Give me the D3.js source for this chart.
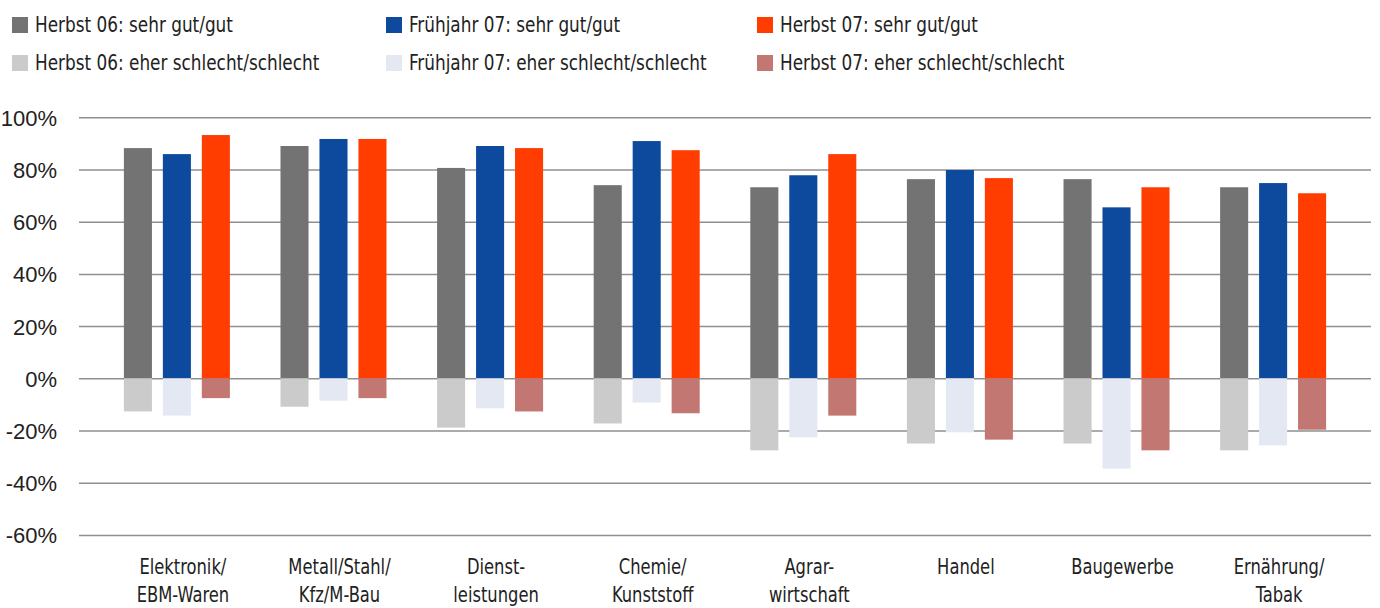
<!DOCTYPE html>
<html>
<head>
<meta charset="utf-8">
<script src="https://cdn.jsdelivr.net/npm/d3@7"></script>
<style>
  body { margin: 0; background: #fff; }
  svg { display: block; font-family: "Liberation Sans Narrow", "DejaVu Sans Condensed", "Open Sans", sans-serif; }
</style>
</head>
<body>
<svg id="chart"></svg>
<script>
const categories = [
  ['Elektronik/', 'EBM-Waren'],
  ['Metall/Stahl/', 'Kfz/M-Bau'],
  ['Dienst-', 'leistungen'],
  ['Chemie/', 'Kunststoff'],
  ['Agrar-', 'wirtschaft'],
  ['Handel'],
  ['Baugewerbe'],
  ['Ernährung/', 'Tabak']
];
const periods = ['Herbst 06', 'Frühjahr 07', 'Herbst 07'];

// share "sehr gut/gut" per period (%)
const goodH06 = [88.2, 89.0, 80.6, 74.0, 73.2, 76.3, 76.3, 73.2];
const goodF07 = [85.9, 91.7, 89.0, 90.9, 77.8, 79.8, 65.5, 74.8];
const goodH07 = [93.2, 91.7, 88.2, 87.4, 85.9, 76.7, 73.2, 70.9];
// share "eher schlecht/schlecht" per period (%), drawn negative
const badH06 = [-12.7, -10.9, -18.9, -17.3, -27.6, -25.0, -25.0, -27.6];
const badF07 = [-14.3, -8.6, -11.5, -9.3, -22.6, -20.7, -34.6, -25.7];
const badH07 = [-7.6, -7.6, -12.7, -13.4, -14.3, -23.5, -27.6, -19.7];

const yTicks = [-60, -40, -20, 0, 20, 40, 60, 80, 100];

const goodColors = ['#737373', '#0d4a9e', '#ff3d00'];
const badColors = ['#cbcbcb', '#e4e8f2', '#c27772'];

const W = 1380, H = 608;
const svg = d3.select('#chart').attr('width', W).attr('height', H);

const catKeys = categories.map(c => c.join(' '));
const x0 = d3.scaleBand().domain(catKeys).range([79, 1371]).paddingInner(0).paddingOuter(0.125);
const x1 = d3.scaleBand().domain(periods).range([0, 106]).paddingInner(0.28);
const groupOff = (x0.bandwidth() - 106) / 2;
const y = d3.scaleLinear().domain([-60, 100]).range([534.9, 117.3]);

// gridlines + y labels
const yAxis = d3.axisLeft(y).tickValues(yTicks).tickSize(-(1371 - 79)).tickFormat(d => d + '%');
const gy = svg.append('g').attr('transform', 'translate(79,0)').call(yAxis);
gy.select('.domain').remove();
gy.selectAll('.tick line').attr('stroke', '#8f8f8f').attr('stroke-width', 1.5);
gy.selectAll('.tick text')
  .attr('x', -22).attr('dy', '0.36em')
  .attr('fill', '#222').style('font-size', '22px');

const goodSeries = [goodH06, goodF07, goodH07];
const badSeries = [badH06, badF07, badH07];

const rows = [];
periods.forEach((p, si) => {
  catKeys.forEach((c, ci) => {
    rows.push({ c, p, v: goodSeries[si][ci], color: goodColors[si] });
    rows.push({ c, p, v: badSeries[si][ci], color: badColors[si] });
  });
});

svg.append('g').selectAll('rect').data(rows).join('rect')
  .attr('x', d => x0(d.c) + groupOff + x1(d.p))
  .attr('width', x1.bandwidth())
  .attr('y', d => d.v >= 0 ? y(d.v) : y(0))
  .attr('height', d => Math.abs(y(d.v) - y(0)))
  .attr('fill', d => d.color);

// no condensed font installed: squeeze text horizontally to the reference widths
function squeeze(sel, sample, target) {
  const probe = svg.append('text').style('font-size', sel.style('font-size')).text(sample);
  const k = Math.min(1, target / probe.node().getComputedTextLength());
  probe.remove();
  return k;
}

// category labels
const lab = svg.append('g').selectAll('text').data(categories).join('text')
  .attr('text-anchor', 'middle')
  .attr('fill', '#222')
  .style('font-size', '22px');
const kc = squeeze(lab, 'Elektronik/', 87);
lab.attr('transform', (d, i) => `translate(${x0(catKeys[i]) + x0.bandwidth() / 2 + 6},574) scale(${kc},1)`);
lab.selectAll('tspan').data(d => d).join('tspan')
  .attr('x', 0)
  .attr('dy', (d, i) => i === 0 ? 0 : 28)
  .text(d => d);

// legend
const legendX = [12, 386, 757];
const legendItems = [];
periods.forEach((p, i) => {
  legendItems.push({ x: legendX[i], row: 0, color: goodColors[i], text: p + ': sehr gut/gut' });
  legendItems.push({ x: legendX[i], row: 1, color: badColors[i], text: p + ': eher schlecht/schlecht' });
});
const lg = svg.append('g').selectAll('g').data(legendItems).join('g')
  .attr('transform', d => `translate(${d.x},${d.row === 0 ? 17 : 55})`);
lg.append('rect').attr('width', 16).attr('height', 16).attr('fill', d => d.color);
const lt = lg.append('text')
  .attr('fill', '#222')
  .style('font-size', '21px')
  .text(d => d.text);
const kl = squeeze(lt, 'Herbst 06: sehr gut/gut', 198);
lt.attr('transform', `translate(23,15) scale(${kl},1)`);
</script>
</body>
</html>
